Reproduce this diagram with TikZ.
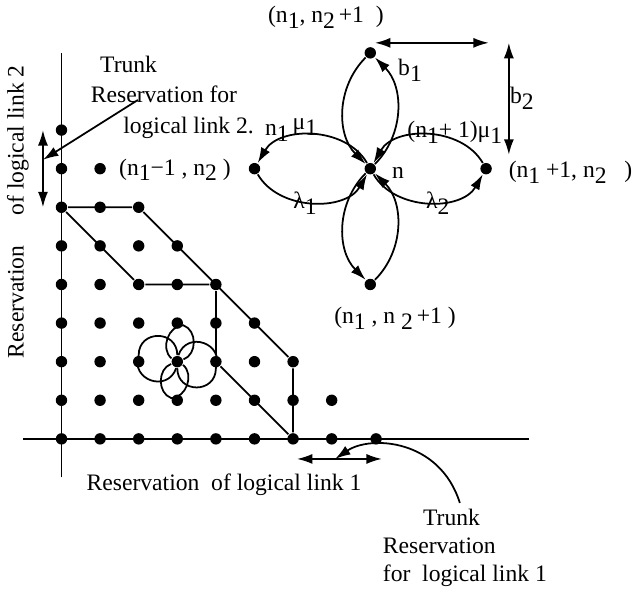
\documentclass[tikz,border=0pt]{standalone}
\usepackage{fontspec}
\setmainfont{Liberation Serif}
\usepackage{tikz}
\usetikzlibrary{arrows.meta}
\newcommand{\lo}[1]{\raisebox{-0.55ex}{#1}}
\tikzset{
  dot/.style={circle, fill=black, inner sep=0pt, minimum size=4.2pt},
  arr/.style={-{Latex[length=2mm, width=1.3mm]}},
  darr/.style={{Latex[length=2mm, width=1.3mm]}-{Latex[length=2mm, width=1.3mm]}},
  lens/.style={bend right=#1},
}

\begin{document}
\begin{tikzpicture}[x=0.5cm, y=0.5cm, line width=0.65pt, font=\fontsize{8.7}{10.5}\selectfont]
  \useasboundingbox (-1.593, -3.99) rectangle (14.78, 11.37);

  \draw (0, -1) -- (0, 10);
  \draw (-1, 0) -- (12.1, 0);

  \foreach \j in {0,...,8} {
    \pgfmathtruncatemacro{\m}{min(8-\j, 7)}
    \foreach \i in {0,...,\m}
      \node[dot] (d-\i-\j) at (\i, \j) {};
  }
  \node[dot] (d-8-0) at (8.15, 0) {};

  \draw (d-0-6) -- (d-2-6) -- (d-6-2) -- (d-6-0);
  \draw (d-0-6) -- (d-2-4) -- (d-4-4) -- (d-4-2) -- (d-6-0);

  \draw (d-3-2) to[bend right=90, looseness=1.7] (d-2-2) to[bend right=90, looseness=1.7] (d-3-2);
  \draw (d-3-2) to[bend right=90, looseness=1.7] (d-4-2) to[bend right=90, looseness=1.7] (d-3-2);
  \draw (d-3-2) to[bend right=70, looseness=1.1] (d-3-3) to[bend right=70, looseness=1.1] (d-3-2);
  \draw (d-3-2) to[bend right=70, looseness=1.1] (d-3-1) to[bend right=70, looseness=1.1] (d-3-2);

  \node[dot] (n) at (8, 7) {};
  \node[dot] (nt) at (8, 10) {};
  \node[dot] (nl) at (5, 7) {};
  \node[dot] (nr) at (11, 7) {};
  \node[dot] (nb) at (8, 4) {};

  \draw[arr] (n) to[lens=60] (nl);
  \draw[arr] (nl) to[lens=60] (n);
  \draw[arr] (nr) to[lens=60] (n);
  \draw[arr] (n) to[lens=60] (nr);
  \draw[arr] (nt) to[lens=45] (n);
  \draw[arr] (n) to[lens=45] (nt);
  \draw[arr] (n) to[lens=45] (nb);
  \draw[arr] (nb) to[lens=45] (n);

  \node (lab-t) at (6.85, 10.93) { (n\lo{1}, n\lo{2}\,+1\ \ ) };
  \node (lab-l) at (2.94, 6.97) { (n\lo{1}−1 , n\lo{2} ) };
  \node[anchor=west] (lab-r) at (11.33, 6.9) { (n\lo{1} +1, n\lo{2}\ \ \ ) };
  \node (lab-b) at (8.64, 3.13) { (n\lo{1} , n \lo{2}\,+1 ) };
  \node (lab-n) at (8.72, 6.89) { n };
  \node (mu-l) at (5.95, 8.0) { n\lo{1}\,\raisebox{0.6ex}{μ\lo{1}} };
  \node (mu-r) at (10.19, 7.93) { (n\lo{1}+ 1)μ\lo{1} };
  \node (la-1) at (6.31, 6.11) { λ\lo{1} };
  \node (la-2) at (9.75, 6.11) { λ\lo{2} };

  \coordinate (b1a) at (8.12, 10.26);
  \coordinate (b1b) at (11.07, 10.26);
  \coordinate (b2a) at (11.59, 10.26);
  \coordinate (b2b) at (11.59, 7.36);
  \draw[darr] (b1a) -- (b1b);
  \draw[darr] (b2a) -- (b2b);
  \node (b-1) at (9.03, 9.56) { b\lo{1} };
  \node (b-2) at (11.93, 8.83) { b\lo{2} };

  \coordinate (res2a) at (-0.48, 8);
  \coordinate (res2b) at (-0.48, 6);
  \coordinate (res2tip) at (-0.48, 7.23);
  \coordinate (tr2start) at (1.98, 8.78);
  \draw[darr] (res2a) -- (res2b);
  \draw[arr] (tr2start) -- (res2tip);
  \node[anchor=west, align=left, font=\fontsize{8.7}{11.2}\selectfont] (trunk2) at (0.505, 8.85)
    { \hspace*{0.12cm}Trunk\\Reservation for\\\hspace*{0.42cm}logical link 2. };
  \node[rotate=90] (res2) at (-1.13, 5.88) { Reservation\hspace{0.39cm}of logical link 2 };

  \coordinate (res1a) at (6.1, -0.52);
  \coordinate (res1b) at (8.3, -0.52);
  \coordinate (res1tip) at (7.09, -0.52);
  \coordinate (tr1start) at (10.32, -1.66);
  \draw[darr] (res1a) -- (res1b);
  \draw[arr] (tr1start) .. controls (9.8, 0) and (8, 0.1) .. (res1tip);
  \node (res1) at (4.21, -1.19) { Reservation\ \ of logical link 1 };
  \node[anchor=west, align=left, font=\fontsize{8.7}{10.3}\selectfont] (trunk1) at (8.07, -2.82)
    { \hspace*{0.52cm}Trunk\\Reservation\\for\ \ logical link 1 };

\end{tikzpicture}
\end{document}
